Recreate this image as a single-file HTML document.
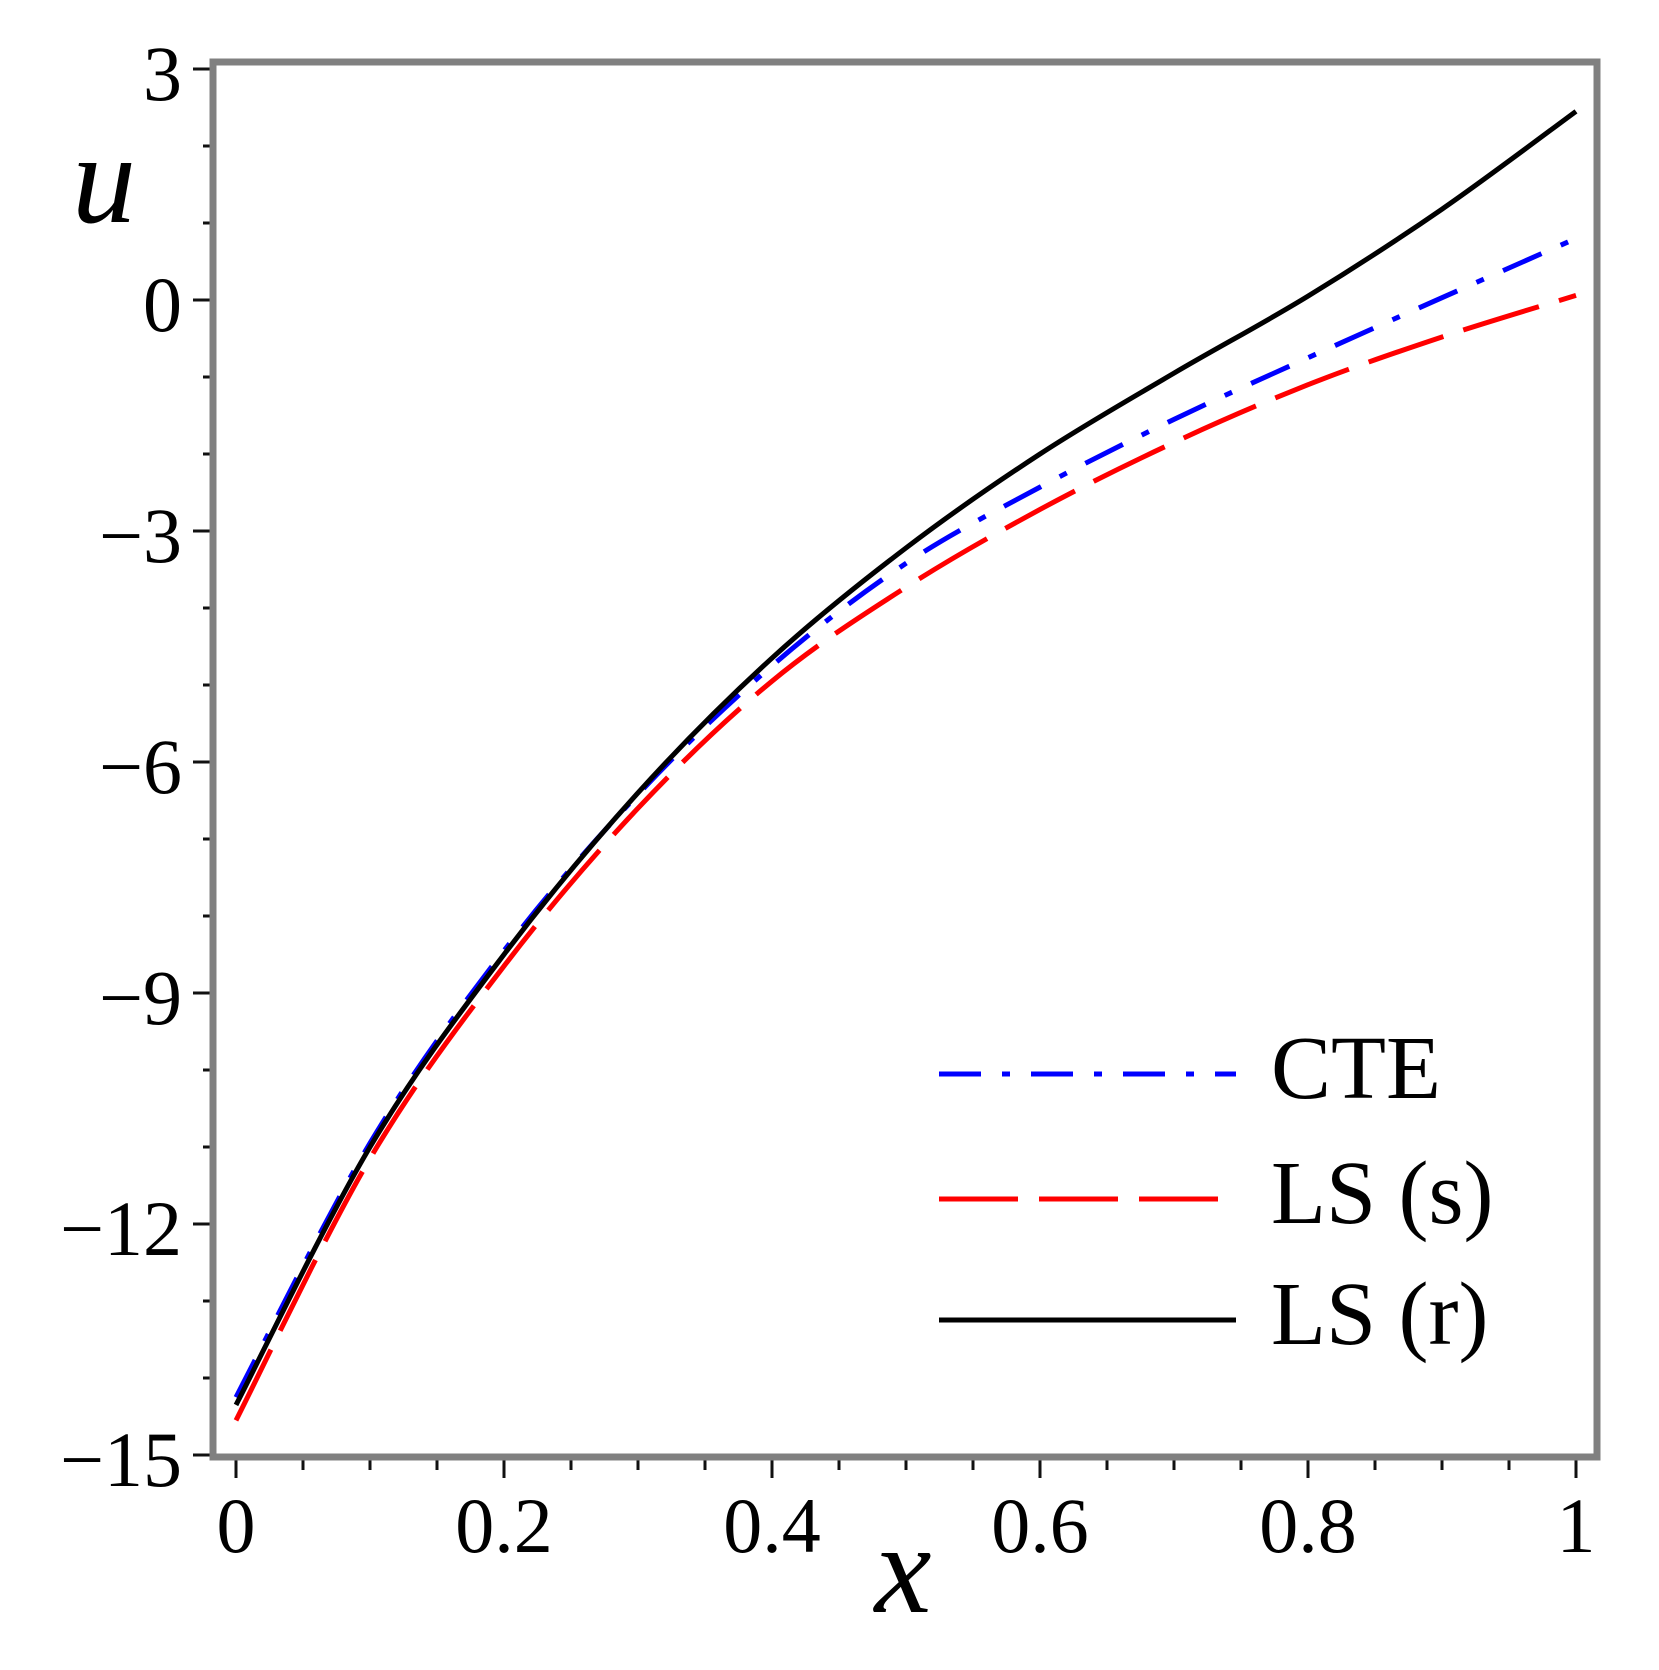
<!DOCTYPE html>
<html><head><meta charset="utf-8"><style>
html,body{margin:0;padding:0;background:#fff;}
svg{display:block;}
text{font-family:"Liberation Serif",serif;fill:#000;}
</style></head>
<body>
<svg id="chart" width="1659" height="1670" viewBox="0 0 1659 1670" xmlns="http://www.w3.org/2000/svg">
<rect x="0" y="0" width="1659" height="1670" fill="#fff"/>
<g id="ticks"></g>
<g id="series"></g>
<rect x="213" y="62" width="1384" height="1395" fill="none" stroke="#808080" stroke-width="7"/>
<text x="72" y="222" font-size="128" font-style="italic">u</text>
<text x="903" y="1612" font-size="128" font-style="italic" text-anchor="middle">x</text>
<g>
<line x1="939" y1="1074" x2="1236" y2="1074" stroke="#0000ff" stroke-width="5" stroke-dasharray="42 21 8 21"/>
<text x="1271" y="1098" font-size="90">CTE</text>
<line x1="939" y1="1199" x2="1236" y2="1199" stroke="#ff0000" stroke-width="5" stroke-dasharray="79 21"/>
<text x="1271" y="1223" font-size="90">LS (s)</text>
<line x1="939" y1="1320" x2="1236" y2="1320" stroke="#000" stroke-width="5"/>
<text x="1271" y="1344" font-size="90">LS (r)</text>
</g>
</svg>
<script>
const xs = [0,0.1,0.2,0.3,0.4,0.5,0.6,0.7,0.8,0.9,1.0];
const lsR = [-14.35,-11.0,-8.5,-6.4,-4.65,-3.22,-2.0,-0.95,0.05,1.18,2.45];
const cte = [-14.25,-10.95,-8.45,-6.42,-4.75,-3.42,-2.43,-1.55,-0.75,0.03,0.8];
const lsS = [-14.55,-11.15,-8.65,-6.6,-4.95,-3.73,-2.72,-1.85,-1.1,-0.48,0.06];
const xTickLabels = ["0","0.2","0.4","0.6","0.8","1"];
const xTickVals = [0,0.2,0.4,0.6,0.8,1];
const yTickLabels = ["3","0","\u22123","\u22126","\u22129","\u221212","\u221215"];
const yTickVals = [3,0,-3,-6,-9,-12,-15];

const NS = "http://www.w3.org/2000/svg";
function X(v){ return 236 + v*1340; }
function Y(v){ return 300 - v*77; }
function mk(tag, attrs, parent){
  const e = document.createElementNS(NS, tag);
  for (const k in attrs) e.setAttribute(k, attrs[k]);
  parent.appendChild(e);
  return e;
}
const ticks = document.getElementById('ticks');
for (let i = 0; i <= 20; i++) {
  const v = i*0.05, major = (i % 4 === 0);
  const t = mk('line', {x1:X(v), y1:1457, x2:X(v), y2: major?1478:1470, stroke:'#111', 'stroke-width':3}, ticks);
  
  
}
for (let v = -15; v <= 3; v++) {
  const major = (v % 3 === 0);
  const t = mk('line', {x1: major?193:203, y1:Y(v), x2:213, y2:Y(v), stroke:'#111', 'stroke-width':3}, ticks);
  
  
}
xTickVals.forEach((v,i)=>{
  const t = mk('text', {x:X(v), y:1552, 'font-size':78, 'text-anchor':'middle'}, ticks);
  t.textContent = xTickLabels[i];
  
  
});
yTickVals.forEach((v,i)=>{
  const t = mk('text', {x:182, y:Y(v)+31, 'font-size':78, 'text-anchor':'end'}, ticks);
  t.textContent = yTickLabels[i];
  
  
});
function pathFor(vals){
  const p = xs.map((x,i)=>[X(x), Y(vals[i])]);
  let d = 'M' + p[0][0] + ' ' + p[0][1];
  for (let i = 0; i < p.length-1; i++) {
    const p0 = p[Math.max(0,i-1)], p1 = p[i], p2 = p[i+1], p3 = p[Math.min(p.length-1,i+2)];
    const c1x = p1[0] + (p2[0]-p0[0])/6, c1y = p1[1] + (p2[1]-p0[1])/6;
    const c2x = p2[0] - (p3[0]-p1[0])/6, c2y = p2[1] - (p3[1]-p1[1])/6;
    d += ' C' + c1x + ' ' + c1y + ' ' + c2x + ' ' + c2y + ' ' + p2[0] + ' ' + p2[1];
  }
  return d;
}
const series = document.getElementById('series');
const s1 = mk('path', {d:pathFor(lsS), fill:'none', stroke:'#ff0000', 'stroke-width':5, 'stroke-dasharray':'79 21'}, series);


const s2 = mk('path', {d:pathFor(cte), fill:'none', stroke:'#0000ff', 'stroke-width':5, 'stroke-dasharray':'42 21 8 21'}, series);


const s3 = mk('path', {d:pathFor(lsR), fill:'none', stroke:'#000', 'stroke-width':5}, series);


</script>
</body></html>
